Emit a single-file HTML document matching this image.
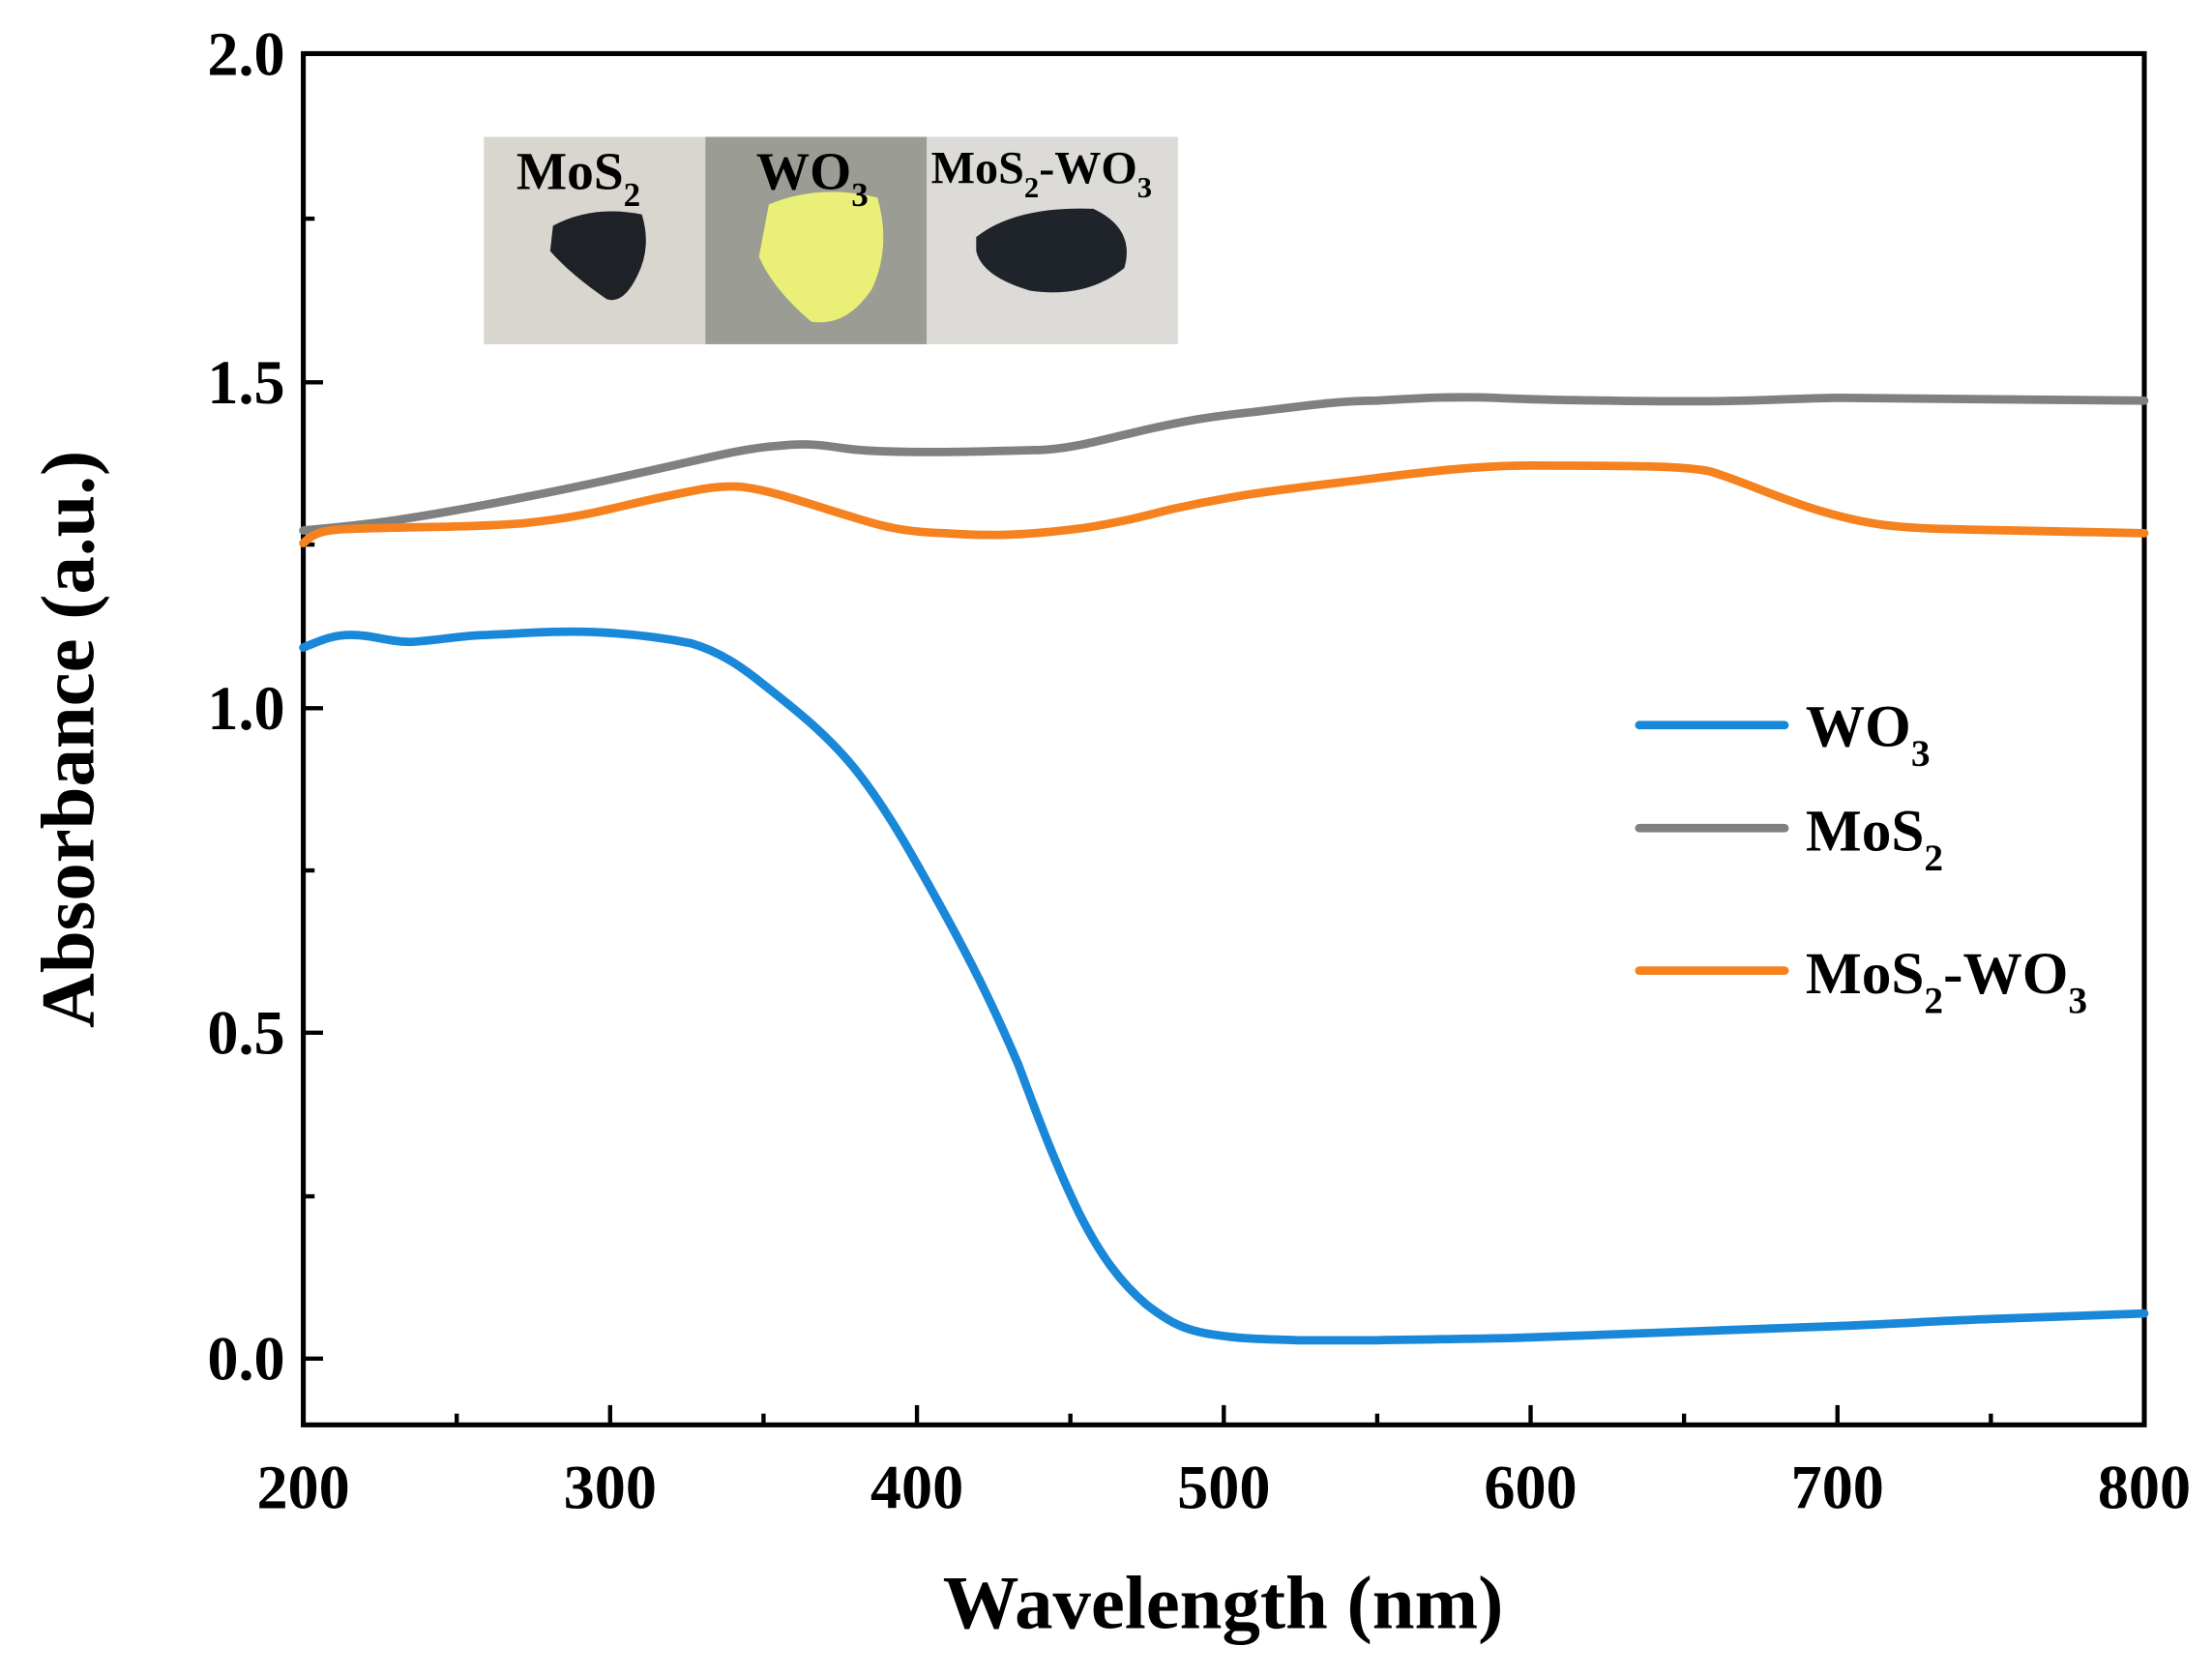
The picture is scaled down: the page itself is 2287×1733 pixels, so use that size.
<!DOCTYPE html>
<html><head><meta charset="utf-8"><style>html,body{margin:0;padding:0;background:#fff}svg{display:block}</style></head>
<body>
<svg width="2287" height="1733" viewBox="0 0 1568 1188" preserveAspectRatio="none" xmlns="http://www.w3.org/2000/svg" font-family="Liberation Serif, serif" font-weight="bold">
<!-- inset -->
<rect x="343" y="97" width="157" height="147" fill="#d9d6cf"/>
<rect x="500" y="97" width="157" height="147" fill="#9b9d95"/>
<rect x="657" y="97" width="178" height="147" fill="#dddbd7"/>
<path d="M392 160 Q420 145 455 152 Q462 175 452 195 Q442 216 430 212 Q405 195 390 178 Z" fill="#1e2226"/>
<path d="M545 145 Q580 130 622 140 Q632 175 618 205 Q600 232 575 228 Q548 205 538 182 Z" fill="#eaef78"/>
<path d="M692 168 Q720 146 775 148 Q805 162 797 190 Q770 212 730 206 Q696 196 692 178 Z" fill="#1f242a"/>
<text x="366" y="134" font-size="38">MoS<tspan font-size="24" dy="12">2</tspan></text>
<text x="536" y="134" font-size="38">WO<tspan font-size="24" dy="12">3</tspan></text>
<text x="660" y="130" font-size="33">MoS<tspan font-size="21" dy="10">2</tspan><tspan dy="-10">-WO</tspan><tspan font-size="21" dy="10">3</tspan></text>
<!-- axes -->
<rect x="215" y="38" width="1305" height="972" fill="none" stroke="#000" stroke-width="3.5"/>
<g stroke="#000" stroke-width="3">
<line x1="215" y1="963" x2="229" y2="963"/><line x1="215" y1="732" x2="229" y2="732"/><line x1="215" y1="502" x2="229" y2="502"/><line x1="215" y1="271" x2="229" y2="271"/>
<line x1="215" y1="848" x2="223" y2="848"/><line x1="215" y1="617" x2="223" y2="617"/><line x1="215" y1="386" x2="223" y2="386"/><line x1="215" y1="155" x2="223" y2="155"/>
<line x1="432.5" y1="1010" x2="432.5" y2="996"/><line x1="650" y1="1010" x2="650" y2="996"/><line x1="867.5" y1="1010" x2="867.5" y2="996"/><line x1="1085" y1="1010" x2="1085" y2="996"/><line x1="1302.5" y1="1010" x2="1302.5" y2="996"/>
<line x1="323.75" y1="1010" x2="323.75" y2="1002"/><line x1="541.25" y1="1010" x2="541.25" y2="1002"/><line x1="758.75" y1="1010" x2="758.75" y2="1002"/><line x1="976.25" y1="1010" x2="976.25" y2="1002"/><line x1="1193.75" y1="1010" x2="1193.75" y2="1002"/><line x1="1411.25" y1="1010" x2="1411.25" y2="1002"/>
</g>
<g font-size="44" text-anchor="end">
<text x="202" y="978">0.0</text><text x="202" y="747">0.5</text><text x="202" y="517">1.0</text><text x="202" y="286">1.5</text><text x="202" y="53">2.0</text>
</g>
<g font-size="44" text-anchor="middle">
<text x="215" y="1069">200</text><text x="432.5" y="1069">300</text><text x="650" y="1069">400</text><text x="867.5" y="1069">500</text><text x="1085" y="1069">600</text><text x="1302.5" y="1069">700</text><text x="1520" y="1069">800</text>
</g>
<text x="867" y="1154" font-size="54" text-anchor="middle">Wavelength (nm)</text>
<text transform="translate(66,524) rotate(-90)" font-size="54" text-anchor="middle">Absorbance (a.u.)</text>
<!-- curves -->
<g fill="none" stroke-width="6" stroke-linejoin="round" stroke-linecap="round">
<path stroke="#808080" d="M215 376 C260 372 290 369 389 349 S520 318 552 316 C570 314 580 315 600 318 C630 322 700 320 737 319 C760 318 780 312 802 307 C840 298 860 295 889 292 C930 287 950 284 976 284 C1010 282 1030 281 1060 282 C1100 284 1200 285 1237 284 C1270 283 1290 282 1302 282 L1520 284"/>
<path stroke="#f5821f" d="M215 385 C222 378 228 376 245 375 C300 373 330 374 370 371 C420 366 440 358 476 351 C500 346 510 344 525 345 C550 348 575 358 606 367 C625 373 640 377 670 378 C700 380 725 380 770 374 C800 369 810 366 830 361 C870 352 900 348 950 342 C1000 336 1040 330 1085 330 C1150 330 1200 330 1215 335 C1240 343 1260 353 1290 362 C1320 371 1340 374 1380 375 L1520 378"/>
<path stroke="#1a88d8" d="M215 459 C225 455 235 450 248 450 C265 450 275 455 291 455 C310 454 330 450 346 450 C370 449 395 447 420 448 C445 449 470 452 490 456 C510 462 525 472 541 485 C560 500 585 519 606 545 C630 575 650 612 672 652 C690 685 705 715 722 755 C735 790 748 825 765 860 C780 890 795 910 813 925 C830 938 840 943 860 946 C880 949 889 949 920 950 L976 950 C1030 949 1060 949 1085 948 C1140 946 1170 945 1193 944 C1240 942 1270 941 1302 940 C1350 938 1380 936 1411 935 L1520 931"/>
</g>
<!-- legend -->
<g stroke-width="6" stroke-linecap="round">
<line x1="1162" y1="514" x2="1265" y2="514" stroke="#1a88d8"/>
<line x1="1162" y1="587" x2="1265" y2="587" stroke="#808080"/>
<line x1="1162" y1="688" x2="1265" y2="688" stroke="#f5821f"/>
</g>
<g font-size="42">
<text x="1280" y="529">WO<tspan font-size="27" dy="14">3</tspan></text>
<text x="1280" y="603">MoS<tspan font-size="27" dy="14">2</tspan></text>
<text x="1280" y="704">MoS<tspan font-size="27" dy="14">2</tspan><tspan dy="-14">-WO</tspan><tspan font-size="27" dy="14">3</tspan></text>
</g>
</svg>
</body></html>
